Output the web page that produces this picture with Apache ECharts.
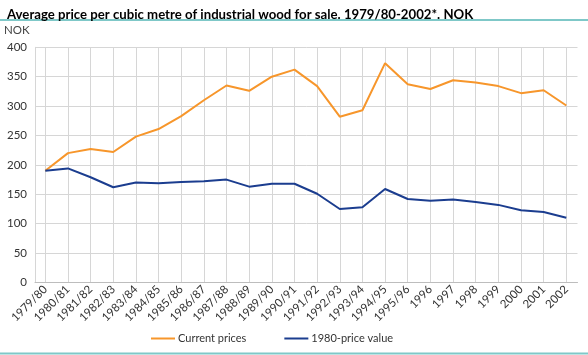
<!DOCTYPE html>
<html><head><meta charset="utf-8">
<script src="https://cdn.jsdelivr.net/npm/echarts@6/dist/echarts.min.js"></script>
<style>html,body{margin:0;padding:0;background:#fff}#c{width:588px;height:355px}</style>
</head><body><div id="c"></div>
<script>
var categories = ['1979/80','1980/81','1981/82','1982/83','1983/84','1984/85','1985/86','1986/87','1987/88','1988/89','1989/90','1990/91','1991/92','1992/93','1993/94','1994/95','1995/96','1996','1997','1998','1999','2000','2001','2002'];
var currentPrices = [190,220,227,222,248,261,283,310,335,326,350,362,334,282,293,373,337,329,344,340,334,322,327,301];
var price1980 = [190,194,179,162,170,169,171,172,175,163,168,168,151,125,128,159,142,139,141,137,132,123,120,110];
var yTicks = {min:0, max:400, interval:50};
var FONT = 'Lato, "Open Sans", sans-serif';

var chart = echarts.init(document.getElementById('c'), null, {renderer:'canvas'});
chart.setOption({
  animation:false,
  title:{text:'Average price per cubic metre of industrial wood for sale. 1979/80-2002*. NOK', left:2, top:3,
    textStyle:{fontFamily:FONT, fontSize:13.2, fontWeight:'bold', color:'#000'}},
  graphic:[
    {type:'rect', shape:{x:0,y:19,width:588,height:2}, style:{fill:'#7fc8c8'}},
    {type:'rect', shape:{x:0,y:352.5,width:588,height:2}, style:{fill:'#7fc8c8'}},
    {type:'text', left:4, top:24, style:{text:'NOK', fontFamily:FONT, fontSize:11.5, fill:'#444'}}
  ],
  grid:[
    {left:35, right:10.5, top:47.3, bottom:72.5},
    {left:45.3, right:21.7, top:47.3, bottom:72.5}
  ],
  xAxis:[
    {gridIndex:0, type:'value', min:0, max:1, show:true, axisLabel:{show:false}, axisTick:{show:false}, splitLine:{show:false},
      axisLine:{show:true, lineStyle:{color:'#bdbdbd'}}},
    {gridIndex:1, type:'category', data:categories, boundaryGap:false,
      axisLine:{show:false}, axisTick:{show:false},
      splitLine:{show:true, lineStyle:{color:'#d6d6d6', width:1}},
      axisLabel:{rotate:45, margin:5, fontFamily:FONT, fontSize:11.5, color:'#333', interval:0}}
  ],
  yAxis:[
    {gridIndex:0, type:'value', min:yTicks.min, max:yTicks.max, interval:yTicks.interval,
      axisLine:{show:true, lineStyle:{color:'#d6d6d6'}}, axisTick:{show:false},
      splitLine:{show:true, lineStyle:{color:'#d6d6d6', width:1}},
      axisLabel:{margin:8, fontFamily:FONT, fontSize:11.5, color:'#333'}},
    {gridIndex:1, type:'value', min:yTicks.min, max:yTicks.max, interval:yTicks.interval, show:false, splitLine:{show:false}}
  ],
  legend:{left:146, top:328, itemGap:38, itemWidth:24, itemHeight:2,
    textStyle:{fontFamily:FONT, fontSize:11, color:'#333', padding:[0,0,0,-2]},
    data:[{name:'Current prices', icon:'rect'},{name:'1980-price value', icon:'rect'}]},
  series:[
    {name:'Current prices', type:'line', xAxisIndex:1, yAxisIndex:1, data:currentPrices, symbol:'none',
      color:'#f7962b', lineStyle:{width:2, color:'#f7962b'}},
    {name:'1980-price value', type:'line', xAxisIndex:1, yAxisIndex:1, data:price1980, symbol:'none',
      color:'#1b3d8f', lineStyle:{width:2, color:'#1b3d8f'}}
  ]
});
</script></body></html>
